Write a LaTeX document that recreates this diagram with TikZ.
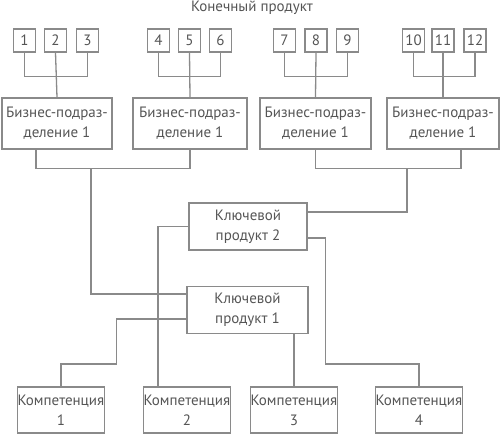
\documentclass[tikz,border=0pt]{standalone}
\usepackage{fontspec}
\setmainfont{PT Sans}
\usepackage{xcolor}
\usetikzlibrary{positioning}
\definecolor{linegray}{HTML}{8A8A8A}
\definecolor{textgray}{HTML}{555555}
\tikzset{
  link/.style={linegray, line width=1.3pt},
  numbox/.style={draw=linegray, line width=1.3pt, text=textgray, minimum width=22pt, minimum height=23pt, inner sep=0pt, font=\fontsize{15}{20}\selectfont},
  unitbox/.style={draw=linegray, line width=1.3pt, text=textgray, minimum height=51pt, inner sep=0pt, align=center, font=\fontsize{15}{20}\selectfont},
  keybox/.style={draw=linegray, line width=1.3pt, text=textgray, minimum width=118pt, minimum height=47pt, inner sep=0pt, align=center, font=\fontsize{15}{20}\selectfont},
  compbox/.style={draw=linegray, line width=1.3pt, text=textgray, minimum width=86pt, minimum height=46pt, inner sep=0pt, align=center, font=\fontsize{15}{20}\selectfont}
}
\begin{document}
\begin{tikzpicture}[x=1pt, y=-1pt]
  \useasboundingbox (0,0) rectangle (500,434);
  \node[text=textgray, font=\fontsize{15}{16}\selectfont] (title) at (252,7.5) {Конечный продукт};
  % final products
  \foreach \n/\x in {1/24.5,2/55.5,3/87.5,4/158.5,5/189.5,6/220.5,7/284.5,8/316,9/347.5,10/413.5,11/443,12/475}{
    \node[numbox] (p\n) at (\x,40.5) {\n};
  }
  % business units
  \node[unitbox, minimum width=110pt] (bu1) at (57,123.5) {Бизнес-подраз-\\деление 1};
  \node[unitbox, minimum width=114pt] (bu2) at (190,123.5) {Бизнес-подраз-\\деление 1};
  \node[unitbox, minimum width=111pt] (bu3) at (315.5,123.5) {Бизнес-подраз-\\деление 1};
  \node[unitbox, minimum width=112pt] (bu4) at (443,123.5) {Бизнес-подраз-\\деление 1};
  % key products
  \node[keybox] (kp2) at (248,226.5) {Ключевой\\продукт 2};
  \node[keybox, minimum width=121pt] (kp1) at (247.5,310) {Ключевой\\продукт 1};
  % competences
  \node[compbox] (c1) at (61,410) {Компетенция\\1};
  \node[compbox] (c2) at (187,410) {Компетенция\\2};
  \node[compbox] (c3) at (294,410) {Компетенция\\3};
  \node[compbox] (c4) at (419,410) {Компетенция\\4};
  % products to units
  \foreach \a/\b/\c/\u in {1/2/3/bu1,4/5/6/bu2,7/8/9/bu3,10/11/12/bu4}{
    \draw[link] (p\a.south) -- ++(0,24) -| (p\c.south);
    \draw[link] (p\b.south) -- (\u.north);
  }
  % units to key products
  \draw[link] ([xshift=-21pt]bu1.south) -- ++(0,19) -| (bu2.south);
  \coordinate (jl) at (91,168);
  \draw[link] (jl) |- ([yshift=16pt]kp1.west);
  \draw[link] (bu3.south) -- ++(0,19) -| ([xshift=18pt]bu4.south);
  \coordinate (jr) at (407,168);
  \draw[link] (jr) |- ([yshift=14.5pt]kp2.east);
  % key products to competences
  \draw[link] (kp2.west) -| ([xshift=-29pt]c2.north);
  \draw[link] ([yshift=-11.5pt]kp2.east) -- ++(18,0) |- (419,364) -- (c4.north);
  \draw[link] ([yshift=-9pt]kp1.west) -- ++(-70,0) |- (61,364) -- (c1.north);
  \draw[link] (c3.north) -- (c3.north |- kp1.south);
\end{tikzpicture}
\end{document}
